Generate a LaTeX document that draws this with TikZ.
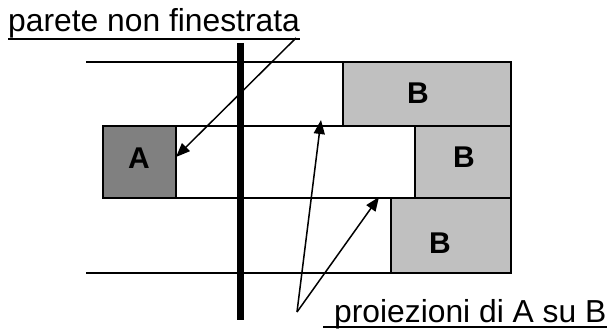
\documentclass[tikz,border=0pt]{standalone}
\usepackage{fontspec}
\setmainfont{Liberation Sans}
\usetikzlibrary{arrows.meta}
\begin{document}
\begin{tikzpicture}[x=1pt,y=-1pt,
  thin line/.style={line width=1.3pt},
  boxstyle/.style={draw, line width=1.3pt, anchor=north west, inner sep=0pt, outer sep=0pt},
  darkbox/.style={boxstyle, fill={rgb,255:red,128;green,128;blue,128}},
  lightbox/.style={boxstyle, fill={rgb,255:red,192;green,192;blue,192}},
  boxlabel/.style={font=\fontsize{30}{34}\selectfont\bfseries, inner sep=0pt},
  caption/.style={font=\fontsize{31.8}{36}\selectfont, inner sep=0pt, anchor=base west},
  pointer/.style={line width=1.5pt, -{Triangle[length=14pt,width=11pt]}}
]
\useasboundingbox (0,0) rectangle (608,329);

% rows
\draw[thin line] (86,62) -- (343,62);
\node[boxstyle, minimum width=239pt, minimum height=72pt] (mid) at (176,126) {};
\draw[thin line] (86,273) -- (391,273);

% boxes
\node[darkbox, minimum width=73pt, minimum height=72pt] (A) at (103,126) {};
\node[lightbox, minimum width=168pt, minimum height=64pt] (B1) at (343,62) {};
\node[lightbox, minimum width=96pt, minimum height=72pt] (B2) at (415,126) {};
\node[lightbox, minimum width=120pt, minimum height=75pt] (B3) at (391,198) {};

% labels
\node[boxlabel] (la) at (139,158) {A};
\node[boxlabel] (lb1) at (418,93) {B};
\node[boxlabel] (lb2) at (464,157) {B};
\node[boxlabel] (lb3) at (440,243) {B};

% wall
\coordinate (wtop) at (240.5,43);
\coordinate (wbot) at (240.5,320);
\draw[line width=7pt] (wtop) -- (wbot);

% captions
\node[caption] (parete) at (8,32) {parete non finestrata};
\draw[line width=2pt] ([yshift=-7pt]parete.base west) -- ([yshift=-7pt]parete.base east);
\node[caption] (proj) at (334,322) {proiezioni di A su B};
\coordinate (ulstart) at (323,327);
\draw[line width=2pt] (ulstart) -- (ulstart -| proj.east);

% arrows
\coordinate (ps) at (296,38);
\coordinate (pt) at (176,157);
\draw[pointer] (ps) -- (pt);
\coordinate (qs) at (297,312);
\coordinate (qt1) at (321,120);
\coordinate (qt2) at (379,197);
\draw[pointer] (qs) -- (qt1);
\draw[pointer] (qs) -- (qt2);
\end{tikzpicture}
\end{document}
